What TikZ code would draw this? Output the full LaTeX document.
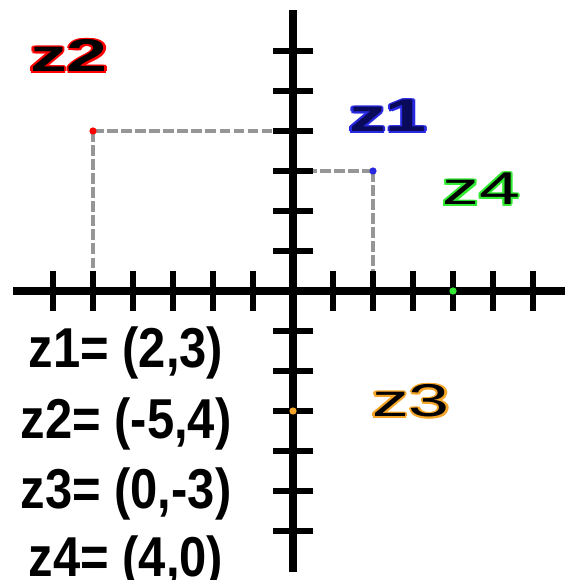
\documentclass[tikz,border=0pt]{standalone}
\usepackage{fontspec}
\setmainfont{Liberation Sans}
\definecolor{zred}{RGB}{255,0,0}
\definecolor{zblue}{RGB}{40,40,225}
\definecolor{zgreen}{RGB}{50,235,50}
\definecolor{zorange}{RGB}{245,165,40}
\definecolor{zdarkblue}{RGB}{10,10,90}
\definecolor{guidegray}{RGB}{150,150,150}
\newcommand\hcopy[3]{\rlap{\kern#1\raisebox{#2}{#3}}}
\newcommand\halotext[3]{\leavevmode\begingroup\color{#1}%
 \hcopy{-1pt}{0pt}{#3}\hcopy{1pt}{0pt}{#3}\hcopy{0pt}{1.4pt}{#3}\hcopy{0pt}{-1.4pt}{#3}%
 \hcopy{-0.7pt}{1pt}{#3}\hcopy{0.7pt}{1pt}{#3}\hcopy{-0.7pt}{-1pt}{#3}\hcopy{0.7pt}{-1pt}{#3}\endgroup
 \textcolor{#2}{#3}}
\begin{document}
\begin{tikzpicture}[x=1cm,y=1cm]
\tikzset{
  axisline/.style={line width=5.3pt},
  tickline/.style={line width=4.6pt},
  guide/.style={draw=guidegray, line width=2.3pt, dash pattern=on 7.5pt off 2.5pt},
  ptdot/.style={circle, inner sep=0pt, minimum size=0.18cm},
  ptlabel/.style={anchor=base, inner sep=0pt, font=\fontsize{32.7}{36}\selectfont},
  coordlabel/.style={anchor=base, inner sep=0pt, font=\fontsize{40}{46}\selectfont\bfseries}
}
\useasboundingbox (-7.325,-7.225) rectangle (6.8,7.275);
% point coordinates and projections
\coordinate (p1) at (2,3);
\coordinate (p2) at (-5,4);
\coordinate (p1x) at (2,0);
\coordinate (p1y) at (0,3);
\coordinate (p2x) at (-5,0);
\coordinate (p2y) at (0,4);
\draw[guide] (p2) -- (p2y);
\draw[guide] (p2) -- (p2x);
\draw[guide] (p1) -- (p1y);
\draw[guide] (p1) -- (p1x);
% axes
\coordinate (xl) at (-7,0);
\coordinate (xr) at (6.8,0);
\coordinate (yb) at (0,-7.025);
\coordinate (yt) at (0,7.025);
\draw[axisline] (xl) -- (xr);
\draw[axisline] (yb) -- (yt);
\foreach \i in {-6,-5,-4,-3,-2,-1,1,2,3,4,5,6} {
  \draw[tickline] (\i,-0.5) -- (\i,0.5);
  \draw[tickline] (-0.5,\i) -- (0.5,\i);
}
% points
\node[ptdot, fill=zblue] (z1) at (p1) {};
\node[ptdot, fill=zred] (z2) at (p2) {};
\node[ptdot, fill=zorange] (z3) at (0,-3) {};
\node[ptdot, fill=zgreen] (z4) at (4,0) {};
% point labels
\node[ptlabel] (l2) at (-5.6,5.475) {\scalebox{1.6}[1]{\halotext{zred}{black}{\bfseries z2}}};
\node[ptlabel] (l1) at (2.375,3.975) {\scalebox{1.6}[1]{\halotext{zblue}{zdarkblue}{\bfseries z1}}};
\node[ptlabel] (l4) at (4.71,2.15) {\scalebox{1.6}[1]{\halotext{zgreen}{black}{z4}}};
\node[ptlabel] (l3) at (2.95,-3.15) {\scalebox{1.6}[1]{\halotext{zorange}{black}{z3}}};
% coordinate list
\node[coordlabel] (c1) at (-4.175,-1.925) {\scalebox{0.87}[1]{z1= (2,3)}};
\node[coordlabel] (c2) at (-4.175,-3.675) {\scalebox{0.87}[1]{z2= (-5,4)}};
\node[coordlabel] (c3) at (-4.175,-5.425) {\scalebox{0.87}[1]{z3= (0,-3)}};
\node[coordlabel] (c4) at (-4.175,-7.125) {\scalebox{0.87}[1]{z4= (4,0)}};
\end{tikzpicture}
\end{document}
